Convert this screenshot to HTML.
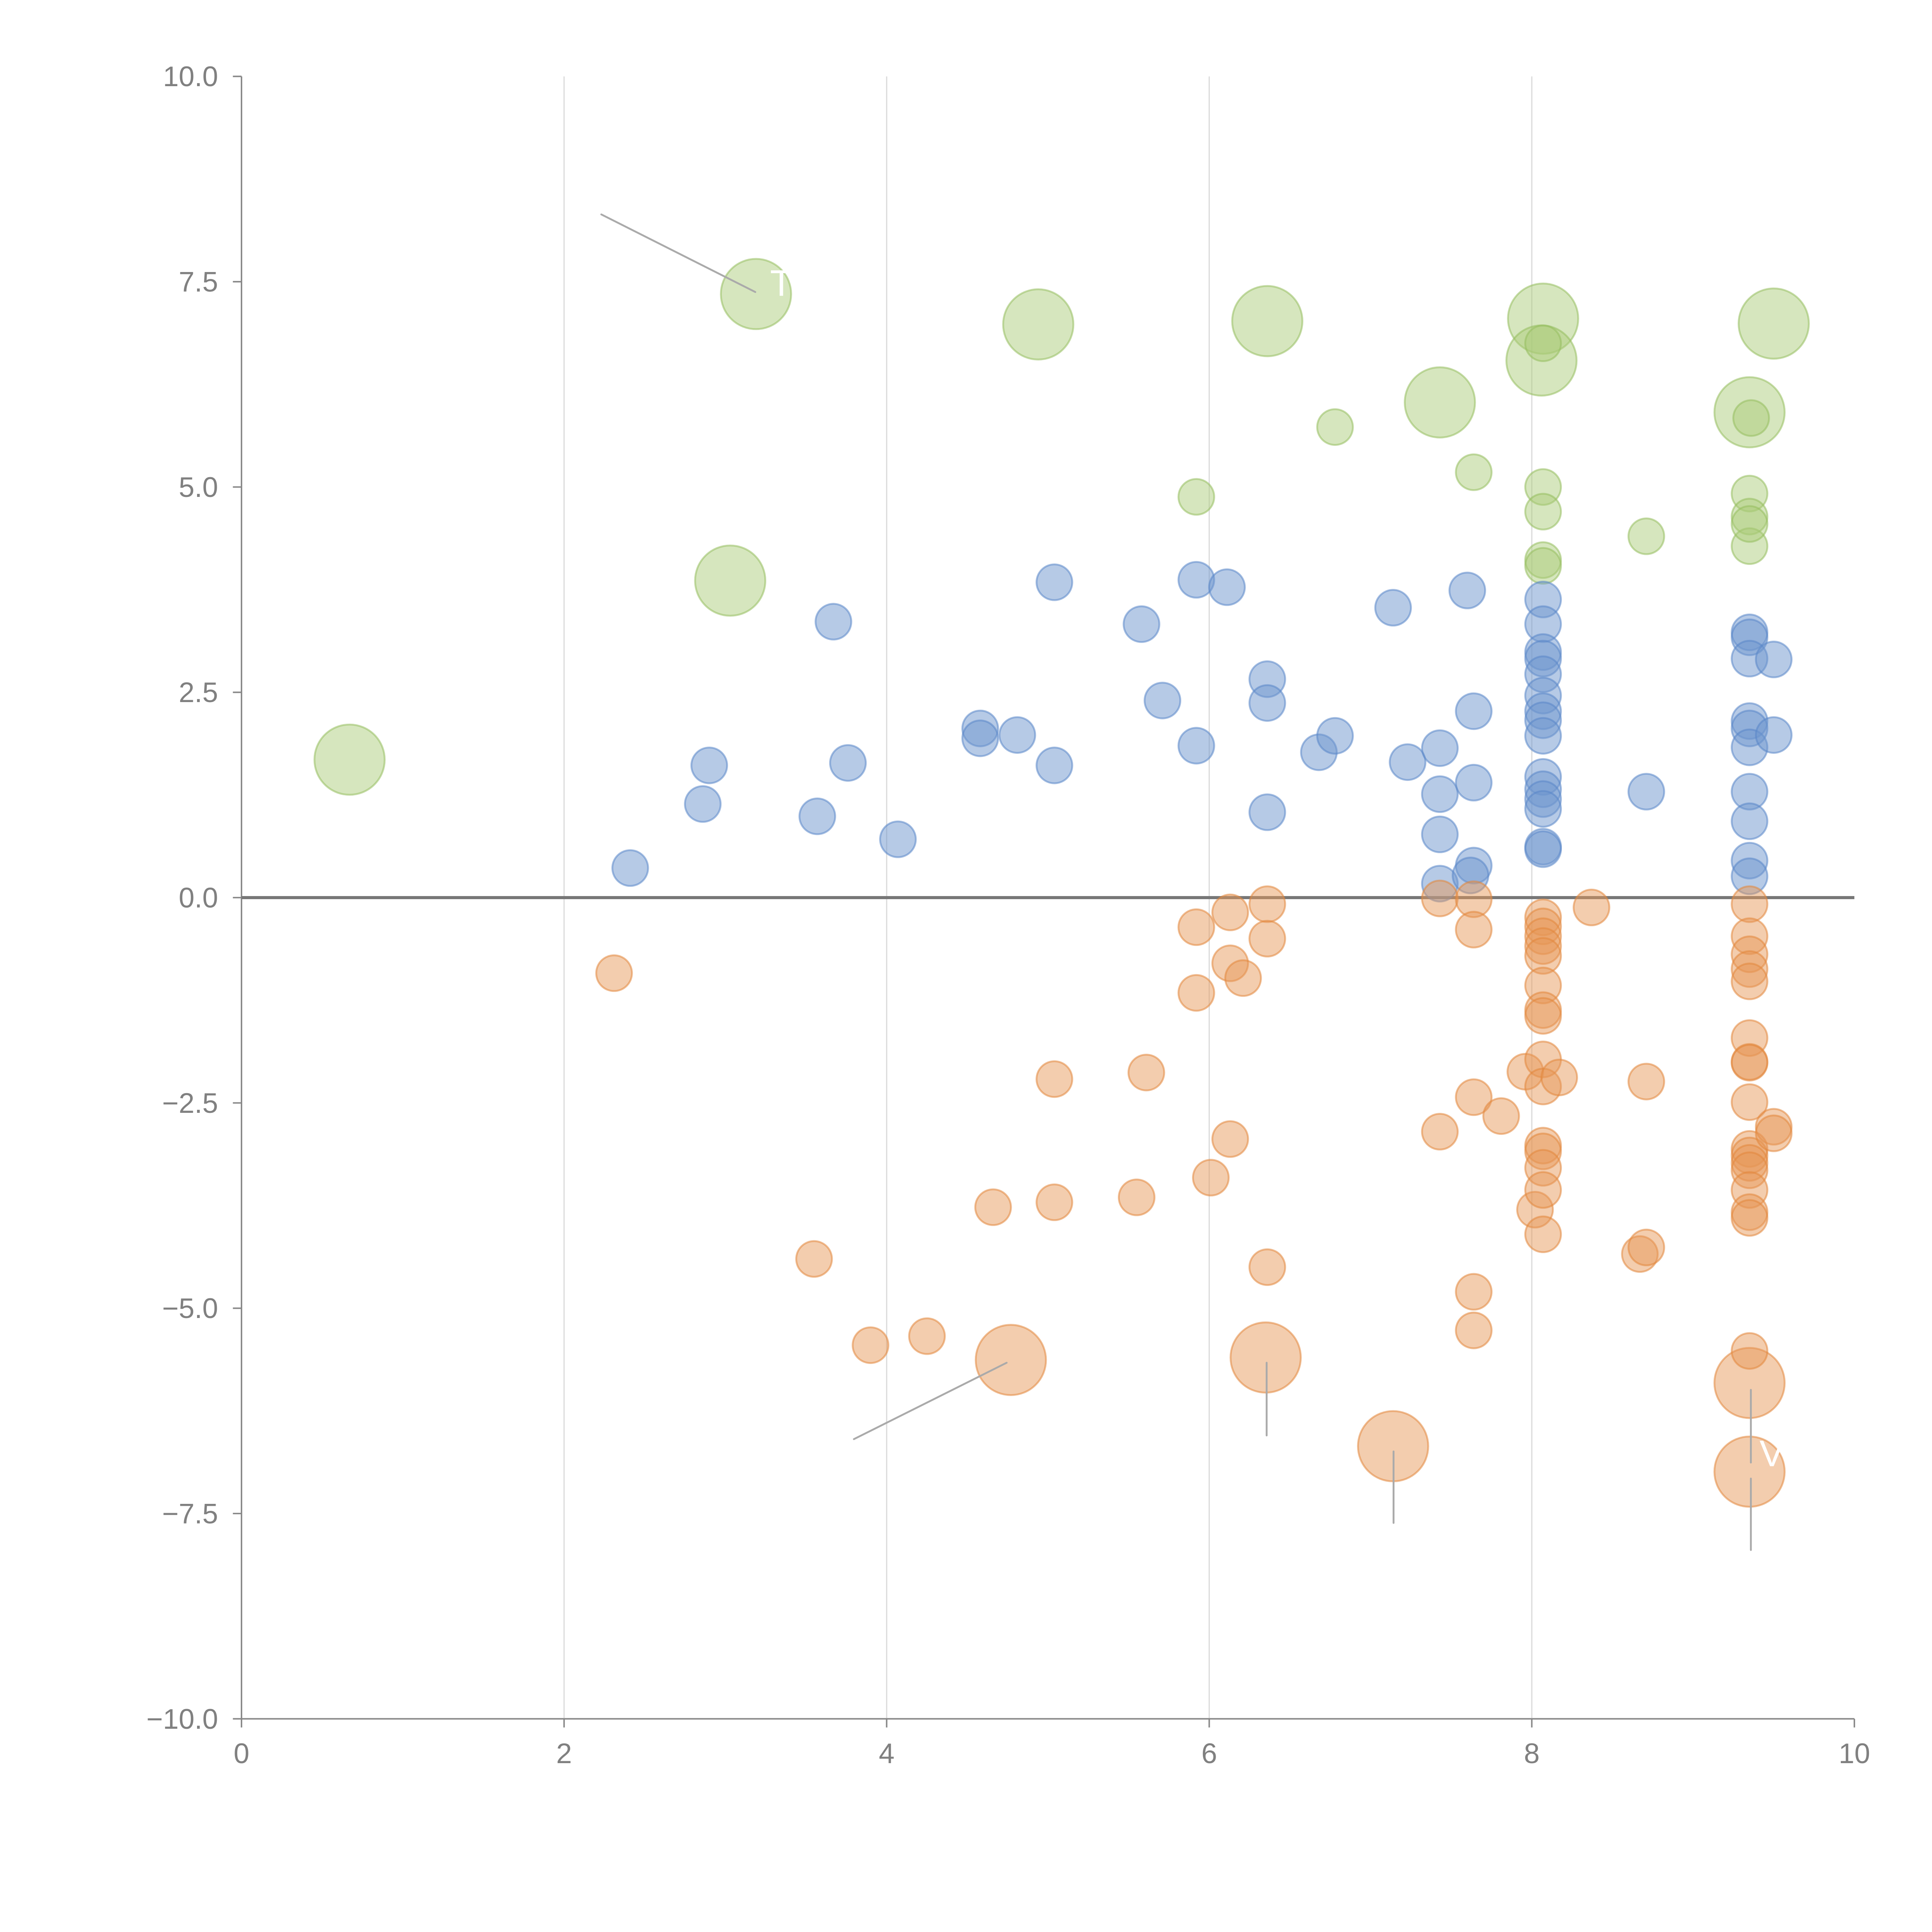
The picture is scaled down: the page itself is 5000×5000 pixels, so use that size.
<!DOCTYPE html>
<html><head><meta charset="utf-8"><style>
html,body{margin:0;padding:0;background:#fff;}
svg{display:block;}
text{font-family:"Liberation Sans",Arial,sans-serif;}
</style></head><body>
<svg id="chart" width="5000" height="5000" viewBox="0 0 1568 1568" xmlns="http://www.w3.org/2000/svg">
<g id="grid"></g>
<g id="axes"></g>
<g id="marks"></g>
<g id="annot"></g>
</svg>
<script>
const xTicks = [0, 2, 4, 6, 8, 10];
const yTicks = [10, 7.5, 5, 2.5, 0, -2.5, -5, -7.5, -10];
const yTickLabels = ["10.0", "7.5", "5.0", "2.5", "0.0", "\u22122.5", "\u22125.0", "\u22127.5", "\u221210.0"];

const blueX = [2.41,2.86,2.90,3.57,3.67,3.76,4.07,4.58,4.58,4.81,5.04,5.04,5.58,5.71,5.92,5.92,6.11,6.36,6.36,6.36,6.68,6.78,7.14,7.23,7.43,7.43,7.43,7.43,7.60,7.64,7.64,7.64,7.62,8.71,
 8.07,8.07,8.07,8.07,8.07,8.07,8.07,8.07,8.07,8.07,8.07,8.07,8.07,8.07,8.07,
 9.35,9.35,9.35,9.35,9.35,9.35,9.35,9.35,9.35,9.35,9.50,9.50];
const blueY = [0.36,1.14,1.61,0.99,3.36,1.64,0.71,2.06,1.94,1.98,3.84,1.61,3.33,2.40,3.87,1.85,3.78,2.66,2.37,1.04,1.77,1.97,3.53,1.65,1.82,1.26,0.77,0.17,3.74,2.27,1.40,0.39,0.27,1.29,
 3.63,3.33,2.99,2.91,2.72,2.46,2.27,2.16,1.97,1.47,1.32,1.20,1.08,0.62,0.59,
 3.23,3.17,2.91,2.15,2.06,1.83,1.29,0.93,0.45,0.26,2.90,1.98];

const orangeX = [2.31,3.55,3.90,4.25,4.66,5.04,5.04,5.55,5.61,5.92,5.92,6.13,6.13,6.13,6.21,6.01,6.36,6.36,6.36,7.43,7.43,7.64,7.64,7.64,7.64,7.64,7.81,7.96,8.02,
 8.07,8.07,8.07,8.07,8.07,8.07,8.07,8.07,8.07,8.07,8.07,8.07,8.07,8.07,8.07,8.17,8.37,8.71,8.67,8.71,
 9.35,9.35,9.35,9.35,9.35,9.35,9.35,9.35,9.35,9.35,9.35,9.35,9.35,9.35,9.35,9.35,9.35,9.50,9.50];
const orangeY = [-0.92,-4.40,-5.45,-5.34,-3.77,-2.21,-3.71,-3.65,-2.13,-0.36,-1.16,-0.18,-0.80,-2.94,-0.98,-3.41,-0.08,-0.50,-4.50,-0.01,-2.85,-0.02,-0.39,-2.43,-4.80,-5.27,-2.66,-2.12,-3.80,
 -0.24,-0.35,-0.47,-0.59,-0.71,-1.07,-1.37,-1.44,-1.97,-2.30,-3.02,-3.09,-3.29,-3.56,-4.10,-2.19,-0.12,-2.24,-4.34,-4.26,
 -0.08,-0.47,-0.69,-0.87,-1.02,-1.71,-2.00,-2.01,-2.49,-3.06,-3.14,-3.23,-3.32,-3.56,-3.83,-3.90,-5.52,-2.79,-2.87];
const orangeBigX = [4.77,6.35,7.14,9.35,9.35];
const orangeBigY = [-5.63,-5.60,-6.68,-5.91,-6.99];

const greenX = [6.78,5.92,7.64,8.07,8.07,8.07,8.07,8.71,9.35,9.35,9.35,9.36,8.07,9.35];
const greenY = [5.73,4.88,5.18,5.00,4.70,4.11,4.04,4.40,4.92,4.64,4.28,5.84,6.75,4.55];
const greenBigX = [0.67,3.03,3.19,4.94,6.36,7.43,8.07,8.06,9.35,9.50];
const greenBigY = [1.68,3.86,7.35,6.98,7.02,6.03,7.05,6.54,5.91,6.99];

const SMALL = 14.5, BIG = 28.5;
const X0 = 196, X1 = 1505, YT = 62, YB = 1395;
function sx(v){ return X0 + (v - 0) / 10 * (X1 - X0); }
function sy(v){ return YB - (v + 10) / 20 * (YB - YT); }
const NS = "http://www.w3.org/2000/svg";
function mk(tag, parent, attrs){ const e = document.createElementNS(NS, tag); for (const k in attrs) e.setAttribute(k, attrs[k]); parent.appendChild(e); return e; }

const grid = document.getElementById('grid');
const axes = document.getElementById('axes');
const marks = document.getElementById('marks');
const annot = document.getElementById('annot');

xTicks.forEach(t => {
  if (t > 0 && t < 10) {
    const g = mk('line', grid, {x1: sx(t), x2: sx(t), y1: YT, y2: YB, stroke: '#dcdcdc', 'stroke-width': 1});
    
    
  }
  const tk = mk('line', axes, {x1: sx(t), x2: sx(t), y1: YB, y2: YB + 7, stroke: '#888', 'stroke-width': 1.2});
  
  
  const lb = mk('text', axes, {x: sx(t), y: YB + 36, 'text-anchor': 'middle', 'font-size': 23, fill: '#808080'});
  lb.textContent = String(t);
  
  
});
yTicks.forEach((t, i) => {
  const tk = mk('line', axes, {x1: X0 - 7, x2: X0, y1: sy(t), y2: sy(t), stroke: '#888', 'stroke-width': 1.2});
  
  
  const lb = mk('text', axes, {x: X0 - 19, y: sy(t) + 8, 'text-anchor': 'end', 'font-size': 23, fill: '#808080'});
  lb.textContent = yTickLabels[i];
  
  
});
const ya = mk('line', axes, {x1: X0, x2: X0, y1: YT, y2: YB, stroke: '#888', 'stroke-width': 1.2});


const xa = mk('line', axes, {x1: X0, x2: X1, y1: YB, y2: YB, stroke: '#888', 'stroke-width': 1.2});



function drawSeries(xs, ys, r, fill, stroke, name){
  xs.forEach((x, i) => {
    const c = mk('circle', marks, {cx: sx(x), cy: sy(ys[i]), r: r, fill: fill, stroke: stroke, 'stroke-width': 1.5});
    
    
  });
}
drawSeries(greenBigX, greenBigY, BIG, 'rgba(170,203,120,0.48)', 'rgba(150,190,95,0.55)', 'green-bubble-large');
drawSeries(greenX, greenY, SMALL, 'rgba(170,203,120,0.48)', 'rgba(150,190,95,0.55)', 'green-bubble');
drawSeries(blueX, blueY, SMALL, 'rgba(110,150,205,0.5)', 'rgba(90,135,200,0.55)', 'blue-bubble');
drawSeries(orangeBigX, orangeBigY, BIG, 'rgba(230,150,85,0.48)', 'rgba(225,135,60,0.55)', 'orange-bubble-large');
drawSeries(orangeX, orangeY, SMALL, 'rgba(230,150,85,0.48)', 'rgba(225,135,60,0.55)', 'orange-bubble');

const zl = mk('line', axes, {x1: X0, x2: X1, y1: sy(0), y2: sy(0), stroke: '#777', 'stroke-width': 2.5});



const leaders = [[488,174,613,237],[693,1168,817,1106],[1028,1106,1028,1165],[1131,1178,1131,1236],[1421,1128,1421,1187],[1421,1200,1421,1258]];
leaders.forEach(l => {
  const e = mk('line', annot, {x1: l[0], y1: l[1], x2: l[2], y2: l[3], stroke: '#aaa', 'stroke-width': 1.5, 'stroke-linecap': 'round'});
  
  
});
const whiteLabels = [[625,240,'T'],[1428,1190,'V']];
whiteLabels.forEach(w => {
  const t = mk('text', annot, {x: w[0], y: w[1], 'font-size': 30, fill: '#fff'});
  t.textContent = w[2];
  
  
});
</script>
</body></html>
